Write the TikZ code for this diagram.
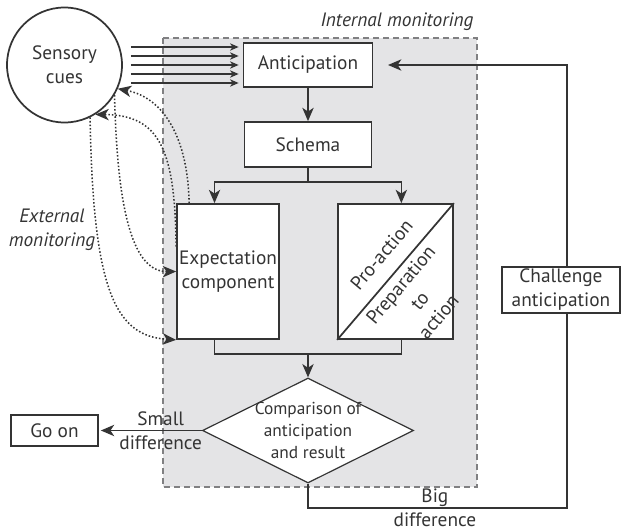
\documentclass[tikz,border=0pt]{standalone}
\usepackage{fontspec}
\setmainfont{PT Sans}
\usetikzlibrary{shapes.geometric,arrows.meta,calc}

\definecolor{ink}{RGB}{52,52,52}
\definecolor{panel}{RGB}{228,228,230}
\definecolor{rim}{RGB}{128,128,130}

\tikzset{every picture/.style={line width=0.75pt}}
\tikzset{
  txt/.style={text=ink, font=\fontsize{14.5}{18}\selectfont, align=center, inner sep=0pt},
  blockbox/.style={txt, draw=ink, fill=white, line width=1.3pt},
  flow/.style={draw=ink, line width=1.1pt, -{Stealth[length=10pt,width=8.5pt,inset=2.8pt]}},
  cue/.style={draw=ink, line width=0.9pt, -{Stealth[length=6.5pt,width=5.5pt,inset=2pt]}},
  feel/.style={draw=ink, line width=1.15pt, dash pattern=on 1.15pt off 1.5pt, -{Stealth[length=10pt,width=8.5pt,inset=2.8pt]}},
}

\begin{document}
\begin{tikzpicture}[x=0.75pt,y=0.75pt,yscale=-1,xscale=1]
\useasboundingbox (0,0) rectangle (621,531);

%Shapes: internal monitoring panel
\draw [draw=rim, fill=panel, line width=1.1pt, dash pattern=on 4.5pt off 3pt] (163,38) rectangle (477,487);

% Text Node
\node [txt, font=\fontsize{14.5}{18}\itshape] (intmon) at (397,22) {Internal monitoring};
% Text Node
\node [txt, font=\fontsize{14.5}{18}\itshape] (extmon) at (52,230) {External\\monitoring};

%Blocks
\node [blockbox, circle, minimum size=0.75*115pt] (cues) at (64.5,65) {Sensory\\cues};
\node [blockbox, minimum width=0.75*129pt, minimum height=0.75*44pt] (antic) at (308,65) {Anticipation};
\node [blockbox, minimum width=0.75*127pt, minimum height=0.75*45pt] (schema) at (308,144.5) {Schema};
\node [blockbox, minimum width=0.75*102pt, minimum height=0.75*135pt] (expect) at (228,271.5) {Expectation\\component};
\node [blockbox, minimum width=0.75*115pt, minimum height=0.75*135pt] (pro) at (395.5,271.5) {};
\draw [draw=ink, line width=1.3pt] (pro.south west) -- (pro.north east);
\node [txt, rotate=50] (proact) at ($(pro)+(-14,-17)$) {Pro-action};
\node [txt, rotate=50, font=\fontsize{14.5}{18.5}\selectfont] (prep) at ($(pro)+(24,29)$) {Preparation\\to\\action};
\node [blockbox, diamond, line width=0.9pt, minimum width=0.75*211pt, minimum height=0.75*105pt] (cmp) at (308,430.5) {};
\node [txt, font=\fontsize{13}{16.5}\selectfont] (cmptext) at (cmp) {Comparison of\\anticipation\\and result};
\node [blockbox, minimum width=0.75*87pt, minimum height=0.75*31pt] (goon) at (54.5,430.5) {Go on};

%Straight Lines: cues into anticipation
\foreach \dy in {-18,-9,0,9,18}
  \draw [cue] ($(cues.east)+(8,\dy)$) -- ($(antic.west)+(-4,\dy)$);

%Straight Lines: main flow
\draw [flow] (antic) -- (schema);
\draw [flow] (schema.south) -- ++(0,14) coordinate (fork) -| ($(expect.north west)!0.37!(expect.north east)$);
\draw [flow] (fork) -| ($(pro.north west)!0.55!(pro.north east)$);
\draw [draw=ink, line width=1.1pt] ($(expect.south west)!0.37!(expect.south east)$) -- ++(0,14) coordinate (merge) -| ($(pro.south west)!0.55!(pro.south east)$);
\draw [flow] (merge -| cmp.north) -- (cmp.north);

%Straight Lines: outcomes
\draw [flow, shorten >=1.5pt] (cmp.west) -- (goon.east) node [txt, pos=0.4] {Small\\difference};
\coordinate (turn) at (567,508);
\draw [flow, shorten >=11pt] (cmp.south) |- (turn) |- (antic.east);
\node [txt] (big) at ($(cmp.south |- turn)!0.49!(turn)$) {Big\\difference};
\node [blockbox, minimum width=0.75*118pt, minimum height=0.75*46pt] (chal) at (561,290) {Challenge\\anticipation};

%Curves: external monitoring
\draw [feel] ($(expect.north west)+(13,0)$) .. controls (188,140) and (165,98) .. (cues.-24);
\draw [feel] ($(expect.west)+(0,-25)$) .. controls (175,150) and (160,115) .. (cues.-58);
\draw [feel] (cues.-31) .. controls (117,200) and (130,272) .. (expect.west);
\draw [feel] (cues.-64) .. controls (93,290) and (115,336) .. (expect.south west);

\end{tikzpicture}
\end{document}
